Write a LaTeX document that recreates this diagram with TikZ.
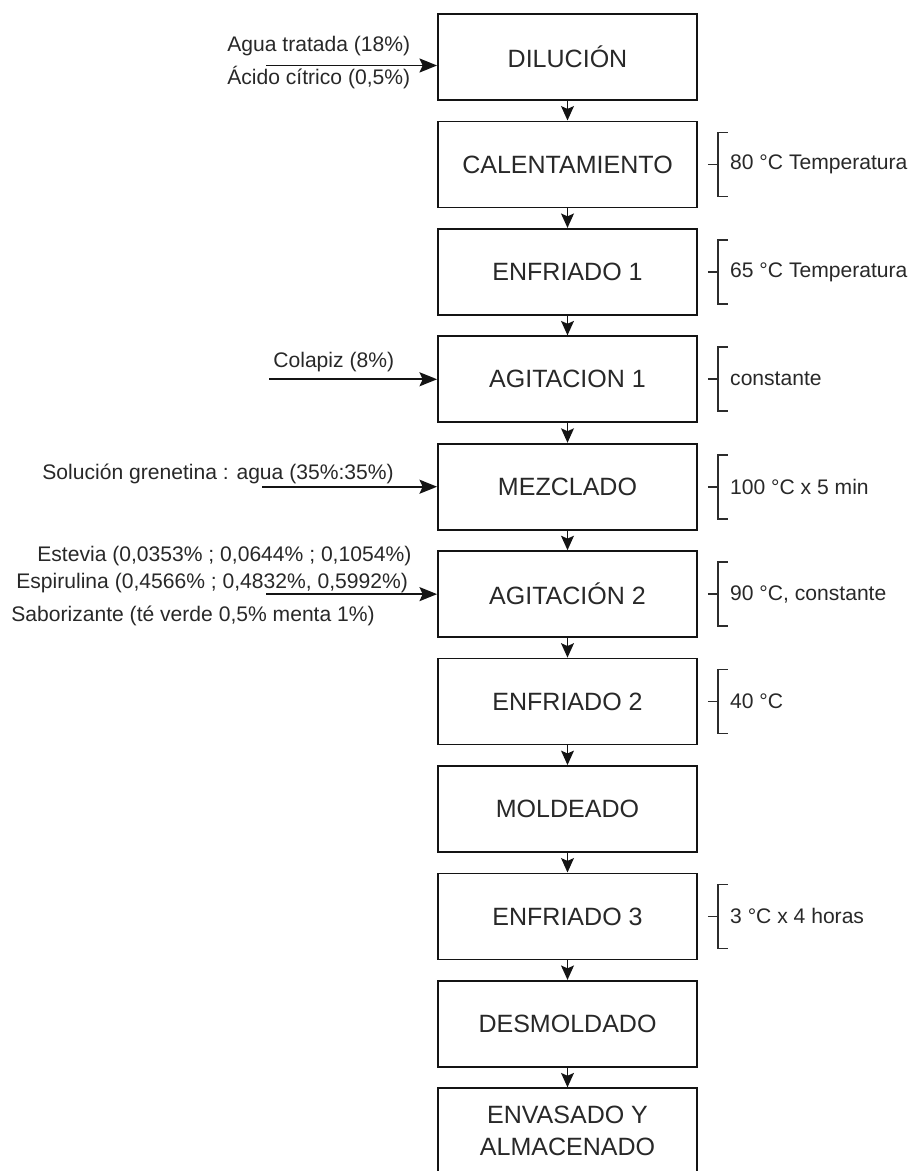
\documentclass[tikz,border=0pt]{standalone}
\usepackage{fontspec}
\setmainfont{Liberation Sans}
\usetikzlibrary{arrows.meta, positioning}
\definecolor{linecolor}{RGB}{20, 20, 20}
\definecolor{textcolor}{RGB}{40, 40, 40}
\tikzset{
  stepbox/.style={rectangle, minimum width=6.475cm, minimum height=2.15cm, align=center, inner sep=0pt, font=\fontsize{17.8}{22.8}\selectfont, draw=linecolor, line width=1.3pt, text=textcolor},
  note/.style={anchor=west, inner sep=0pt, font=\fontsize{15}{18}\selectfont, text=textcolor},
  arr/.style={-{Stealth[length=0.36cm, width=0.32cm, inset=0.07cm]}, line width=1.3pt, color=linecolor},
  inarr/.style={-{Stealth[length=0.44cm, width=0.35cm, inset=0.08cm]}, line width=1.3pt, color=linecolor},
  bracket/.style={line width=1.3pt, color=linecolor!90}
}

\begin{document}
\begin{tikzpicture}[node distance=0.49cm]

  \useasboundingbox (0,0) rectangle (22.825,-29.275);

  % process steps
  \node[stepbox] (dil) at (14.1875,-1.425) {DILUCIÓN};
  \node[stepbox, below=of dil]  (cal)  {CALENTAMIENTO};
  \node[stepbox, below=of cal]  (enf1) {ENFRIADO 1};
  \node[stepbox, below=of enf1] (agi1) {AGITACION 1};
  \node[stepbox, below=of agi1] (mez)  {MEZCLADO};
  \node[stepbox, below=of mez]  (agi2) {AGITACIÓN 2};
  \node[stepbox, below=of agi2] (enf2) {ENFRIADO 2};
  \node[stepbox, below=of enf2] (mol)  {MOLDEADO};
  \node[stepbox, below=of mol]  (enf3) {ENFRIADO 3};
  \node[stepbox, below=of enf3] (desm) {DESMOLDADO};
  \node[stepbox, below=of desm] (env)  {ENVASADO Y\\ALMACENADO};

  \draw[arr] (dil)  -- (cal);
  \draw[arr] (cal)  -- (enf1);
  \draw[arr] (enf1) -- (agi1);
  \draw[arr] (agi1) -- (mez);
  \draw[arr] (mez)  -- (agi2);
  \draw[arr] (agi2) -- (enf2);
  \draw[arr] (enf2) -- (mol);
  \draw[arr] (mol)  -- (enf3);
  \draw[arr] (enf3) -- (desm);
  \draw[arr] (desm) -- (env);

  % inputs
  \coordinate (dilin)  at ([shift={(-4.275,-0.2125)}]dil.west);
  \coordinate (agi1in) at ([xshift=-4.2cm]agi1.west);
  \coordinate (mezin)  at ([xshift=-4.375cm]mez.west);
  \coordinate (agi2in) at ([xshift=-4.275cm]agi2.west);

  \draw[inarr] (dilin)  -- (dilin -| dil.west);
  \draw[inarr] (agi1in) -- (agi1);
  \draw[inarr] (mezin)  -- (mez);
  \draw[inarr] (agi2in) -- (agi2);

  \node[note] (agua)   at ([shift={(-0.975,0.475)}]dilin) {Agua tratada (18\%)};
  \node[note] (acido)  at ([shift={(-0.975,-0.3)}]dilin)  {Ácido cítrico (0,5\%)};
  \node[note] (colapiz) at ([shift={(0.1,0.425)}]agi1in)  {Colapiz (8\%)};
  \node[note] (grenet) at ([shift={(-5.5,0.325)}]mezin)   {Solución grenetina : agua (35\%:35\%)};
  \node[note] (estev)  at ([shift={(-5.725,0.95)}]agi2in) {Estevia (0,0353\% ; 0,0644\% ; 0,1054\%)};
  \node[note] (espir)  at ([shift={(-6.25,0.275)}]agi2in) {Espirulina (0,4566\% ; 0,4832\%, 0,5992\%)};
  \node[note] (sabor)  at ([shift={(-6.375,-0.55)}]agi2in) {Saborizante (té verde 0,5\% menta 1\%)};

  % conditions
  \node[note, right=0.8cm of cal]  (calnote)  {80 °C Temperatura};
  \node[note, right=0.8cm of enf1] (enf1note) {65 °C Temperatura};
  \node[note, right=0.8cm of agi1] (agi1note) {constante};
  \node[note, right=0.8cm of mez]  (meznote)  {100 °C x 5 min};
  \node[note, right=0.8cm of agi2] (agi2note) {90 °C, constante};
  \node[note, right=0.8cm of enf2] (enf2note) {40 °C};
  \node[note, right=0.8cm of enf3] (enf3note) {3 °C x 4 horas};

  \draw[bracket] ([shift={(0.75,0.8)}]cal.east) -- ++(-0.25,0) -- ++(0,-1.6) -- ++(0.25,0)
                 ([xshift=0.25cm]cal.east) -- ++(0.25,0);
  \draw[bracket] ([shift={(0.75,0.8)}]enf1.east) -- ++(-0.25,0) -- ++(0,-1.6) -- ++(0.25,0)
                 ([xshift=0.25cm]enf1.east) -- ++(0.25,0);
  \draw[bracket] ([shift={(0.75,0.8)}]agi1.east) -- ++(-0.25,0) -- ++(0,-1.6) -- ++(0.25,0)
                 ([xshift=0.25cm]agi1.east) -- ++(0.25,0);
  \draw[bracket] ([shift={(0.75,0.8)}]mez.east) -- ++(-0.25,0) -- ++(0,-1.6) -- ++(0.25,0)
                 ([xshift=0.25cm]mez.east) -- ++(0.25,0);
  \draw[bracket] ([shift={(0.75,0.8)}]agi2.east) -- ++(-0.25,0) -- ++(0,-1.6) -- ++(0.25,0)
                 ([xshift=0.25cm]agi2.east) -- ++(0.25,0);
  \draw[bracket] ([shift={(0.75,0.8)}]enf2.east) -- ++(-0.25,0) -- ++(0,-1.6) -- ++(0.25,0)
                 ([xshift=0.25cm]enf2.east) -- ++(0.25,0);
  \draw[bracket] ([shift={(0.75,0.8)}]enf3.east) -- ++(-0.25,0) -- ++(0,-1.6) -- ++(0.25,0)
                 ([xshift=0.25cm]enf3.east) -- ++(0.25,0);

\end{tikzpicture}
\end{document}
